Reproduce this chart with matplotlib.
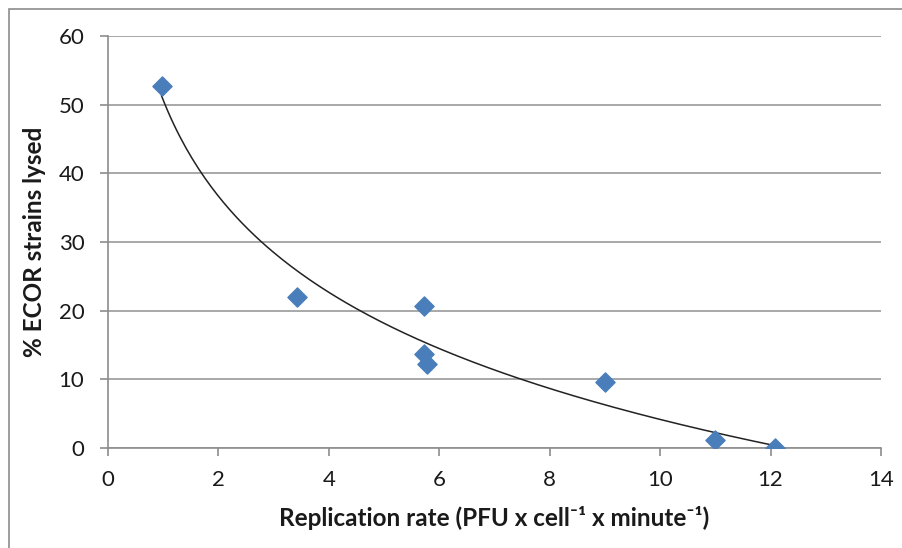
import numpy as np
import matplotlib
matplotlib.use("Agg")
import matplotlib.pyplot as plt
from matplotlib.patches import Rectangle

plt.rcParams['font.family'] = ['Lato', 'DejaVu Sans']

# Data
rate = [0.97, 3.42, 5.72, 5.73, 5.77, 9.0, 11.0, 12.08]
lysed = [52.7, 22.0, 20.7, 13.7, 12.2, 9.6, 1.2, 0.0]
x_ticks = [0, 2, 4, 6, 8, 10, 12, 14]
y_ticks = [0, 10, 20, 30, 40, 50, 60]

fig = plt.figure(figsize=(9.03, 5.48), dpi=100)
ax = fig.add_axes([108/903, 1-448/548, (881-108)/903, (448-36)/548])

# logarithmic trendline (least squares on ln x)
a, b = np.polyfit(np.log(rate), lysed, 1)
xs = np.linspace(min(rate), max(rate), 200)
ax.plot(xs, a*np.log(xs) + b, color='#222222', lw=1.1, zorder=2)

ax.scatter(rate, lysed, marker='D', s=95, color='#4a7ebb', edgecolor='#4a7ebb', zorder=3)

ax.set_xlim(0, 14)
ax.set_ylim(0, 60)
ax.set_xticks(x_ticks)
ax.set_yticks(y_ticks)
ax.grid(axis='y', color='#9a9a9a', lw=1.2)
ax.set_axisbelow(True)
for s in ['top', 'right']:
    ax.spines[s].set_visible(False)
for s in ['left', 'bottom']:
    ax.spines[s].set_color('#8c8c8c')
    ax.spines[s].set_linewidth(1.2)
ax.tick_params(axis='both', direction='out', length=6, width=1.2, color='#8c8c8c',
               labelsize=16, labelcolor='#1a1a1a')
ax.tick_params(axis='x', pad=10)
ax.tick_params(axis='y', pad=11)

ax.set_xlabel('Replication rate (PFU x cell\u207b\u00b9 x minute\u207b\u00b9)', fontsize=17.5,
              fontweight='bold', color='#1a1a1a', labelpad=11)
ax.set_ylabel('% ECOR strains lysed', fontsize=17.5, fontweight='bold', color='#1a1a1a', labelpad=9)

fig.patches.append(Rectangle((9/903, -0.1), 1.0, 1.1 - 9/548,
                             transform=fig.transFigure, fill=False, edgecolor='#8c8c8c', lw=1.2))

fig.savefig('out.png', dpi=100)
